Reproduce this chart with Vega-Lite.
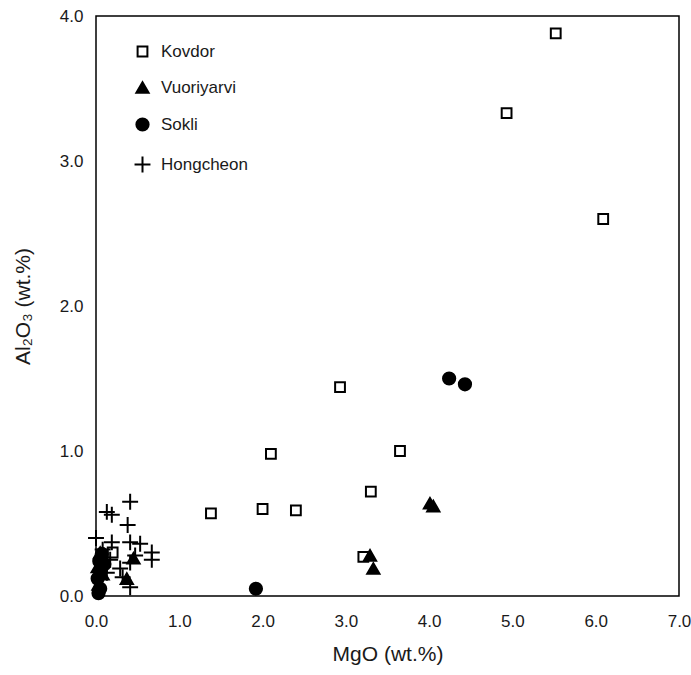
{
  "$schema": "https://vega.github.io/schema/vega-lite/v6.json",
  "width": 583,
  "height": 580,
  "autosize": {"type": "none"},
  "padding": {"left": 96, "top": 16, "right": 12, "bottom": 79},
  "background": "white",
  "config": {
    "view": {"stroke": "#000", "strokeWidth": 1.5},
    "font": "Liberation Sans",
    "axis": {"grid": false, "domain": false, "ticks": false, "labelFont": "Liberation Sans", "titleFont": "Liberation Sans", "labelColor": "#1a1a1a", "titleColor": "#1a1a1a", "labelFontSize": 17, "titleFontSize": 21, "titleFontWeight": "normal", "labelFlush": false}
  },
  "data": {
    "values": [
      {"group": "Kovdor", "mgo": 5.52, "al2o3": 3.88},
      {"group": "Kovdor", "mgo": 4.93, "al2o3": 3.33},
      {"group": "Kovdor", "mgo": 6.09, "al2o3": 2.60},
      {"group": "Kovdor", "mgo": 2.93, "al2o3": 1.44},
      {"group": "Kovdor", "mgo": 2.10, "al2o3": 0.98},
      {"group": "Kovdor", "mgo": 3.65, "al2o3": 1.00},
      {"group": "Kovdor", "mgo": 3.30, "al2o3": 0.72},
      {"group": "Kovdor", "mgo": 1.38, "al2o3": 0.57},
      {"group": "Kovdor", "mgo": 2.00, "al2o3": 0.60},
      {"group": "Kovdor", "mgo": 2.40, "al2o3": 0.59},
      {"group": "Kovdor", "mgo": 3.21, "al2o3": 0.27},
      {"group": "Kovdor", "mgo": 0.20, "al2o3": 0.30},
      {"group": "Vuoriyarvi", "mgo": 3.29, "al2o3": 0.28},
      {"group": "Vuoriyarvi", "mgo": 3.33, "al2o3": 0.19},
      {"group": "Vuoriyarvi", "mgo": 4.01, "al2o3": 0.64},
      {"group": "Vuoriyarvi", "mgo": 4.05, "al2o3": 0.62},
      {"group": "Vuoriyarvi", "mgo": 0.03, "al2o3": 0.08},
      {"group": "Vuoriyarvi", "mgo": 0.08, "al2o3": 0.15},
      {"group": "Vuoriyarvi", "mgo": 0.05, "al2o3": 0.30},
      {"group": "Vuoriyarvi", "mgo": 0.02, "al2o3": 0.20},
      {"group": "Vuoriyarvi", "mgo": 0.45, "al2o3": 0.26},
      {"group": "Vuoriyarvi", "mgo": 0.37, "al2o3": 0.12},
      {"group": "Sokli", "mgo": 4.24, "al2o3": 1.50},
      {"group": "Sokli", "mgo": 4.43, "al2o3": 1.46},
      {"group": "Sokli", "mgo": 1.92, "al2o3": 0.05},
      {"group": "Sokli", "mgo": 0.03, "al2o3": 0.02},
      {"group": "Sokli", "mgo": 0.05, "al2o3": 0.05},
      {"group": "Sokli", "mgo": 0.02, "al2o3": 0.12},
      {"group": "Sokli", "mgo": 0.06, "al2o3": 0.18},
      {"group": "Sokli", "mgo": 0.04, "al2o3": 0.24},
      {"group": "Sokli", "mgo": 0.07, "al2o3": 0.29},
      {"group": "Sokli", "mgo": 0.10, "al2o3": 0.22},
      {"group": "Hongcheon", "mgo": 0.41, "al2o3": 0.65},
      {"group": "Hongcheon", "mgo": 0.13, "al2o3": 0.58},
      {"group": "Hongcheon", "mgo": 0.19, "al2o3": 0.56},
      {"group": "Hongcheon", "mgo": 0.38, "al2o3": 0.49},
      {"group": "Hongcheon", "mgo": 0.00, "al2o3": 0.40},
      {"group": "Hongcheon", "mgo": 0.19, "al2o3": 0.37},
      {"group": "Hongcheon", "mgo": 0.41, "al2o3": 0.37},
      {"group": "Hongcheon", "mgo": 0.53, "al2o3": 0.36},
      {"group": "Hongcheon", "mgo": 0.67, "al2o3": 0.30},
      {"group": "Hongcheon", "mgo": 0.67, "al2o3": 0.25},
      {"group": "Hongcheon", "mgo": 0.47, "al2o3": 0.28},
      {"group": "Hongcheon", "mgo": 0.41, "al2o3": 0.23},
      {"group": "Hongcheon", "mgo": 0.29, "al2o3": 0.19},
      {"group": "Hongcheon", "mgo": 0.32, "al2o3": 0.13},
      {"group": "Hongcheon", "mgo": 0.41, "al2o3": 0.06},
      {"group": "Hongcheon", "mgo": 0.17, "al2o3": 0.25},
      {"group": "Hongcheon", "mgo": 0.08, "al2o3": 0.32},
      {"group": "Hongcheon", "mgo": 0.13, "al2o3": 0.16}
    ]
  },
  "mark": {"type": "point", "strokeWidth": 2, "opacity": 1, "size": 150},
  "encoding": {
    "x": {"field": "mgo", "type": "quantitative", "scale": {"domain": [0, 7], "nice": false, "zero": false},
          "axis": {"orient": "bottom", "values": [0, 1, 2, 3, 4, 5, 6, 7], "format": ".1f", "labelPadding": 17, "title": "MgO (wt.%)", "titlePadding": 14}},
    "y": {"field": "al2o3", "type": "quantitative", "scale": {"domain": [0, 4], "nice": false, "zero": false},
          "axis": {"orient": "left", "values": [0, 1, 2, 3, 4], "format": ".1f", "labelPadding": 13, "title": "Al₂O₃ (wt.%)", "titlePadding": 26}},
    "shape": {"field": "group", "type": "nominal",
              "scale": {"domain": ["Kovdor", "Vuoriyarvi", "Sokli", "Hongcheon"], "range": ["M-0.8,-0.8H0.8V0.8H-0.8Z", "triangle-up", "circle", "M-1.3,0H1.3M0,-1.3V1.3"]},
              "legend": {"orient": "none", "legendX": 38, "legendY": 27, "title": null, "padding": 0, "labelFont": "Liberation Sans", "labelFontSize": 17, "labelColor": "#1a1a1a", "symbolSize": 150, "symbolStrokeWidth": 2, "rowPadding": 17, "labelOffset": 10}},
    "fill": {"field": "group", "type": "nominal",
             "scale": {"domain": ["Kovdor", "Vuoriyarvi", "Sokli", "Hongcheon"], "range": ["#ffffff", "#000000", "#000000", "#000000"]}},
    "stroke": {"field": "group", "type": "nominal",
               "scale": {"domain": ["Kovdor", "Vuoriyarvi", "Sokli", "Hongcheon"], "range": ["#000000", "#000000", "#000000", "#000000"]}}
  }
}
